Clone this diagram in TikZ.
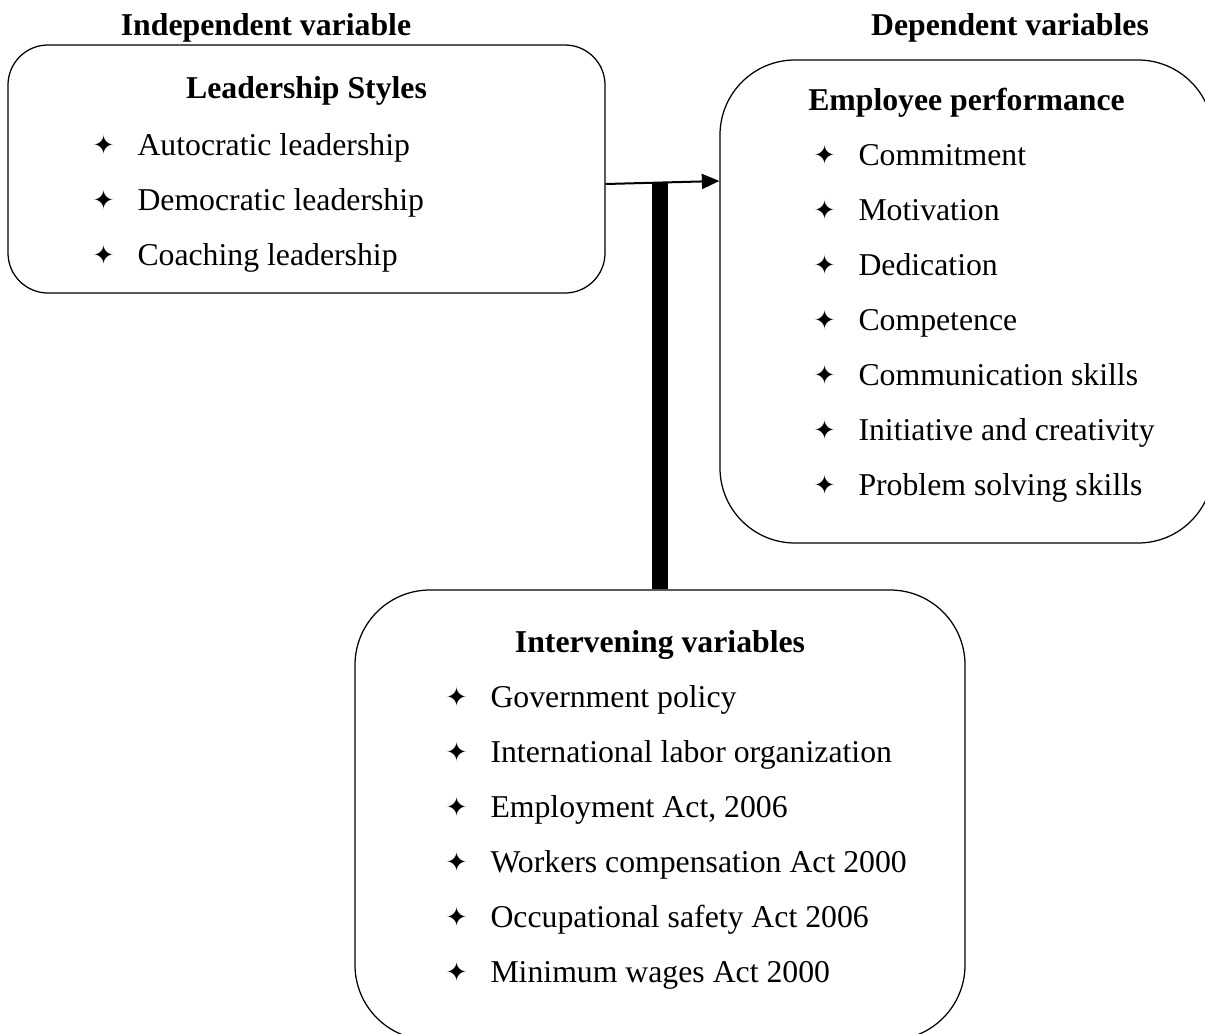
\documentclass[tikz,border=0pt]{standalone}
\usepackage{fontspec}
\setmainfont{Liberation Serif}
\newfontfamily\symfont{DejaVu Sans}
\usepackage{tikz}
\usetikzlibrary{arrows.meta,positioning}

\newcommand{\starbullet}{\makebox[27.2pt][c]{\raisebox{0.2pt}{\symfont\fontsize{10.5}{10}\selectfont ✦}}}

\begin{document}
\begin{tikzpicture}[
  x=0.4pt, y=-0.4pt,
  >=Triangle,
  every node/.style={font=\fontsize{12.7}{15}\selectfont},
  varbox/.style={
    draw, line width=0.5pt, rectangle
  },
  titletext/.style={
    anchor=base, inner sep=0pt, font=\fontsize{12.7}{15}\selectfont\bfseries
  },
  heading/.style={
    anchor=base, inner sep=0pt, font=\fontsize{12.7}{15}\selectfont\bfseries
  },
  item/.style={
    anchor=west, inner sep=0pt, text height=10pt, text depth=3.5pt
  },
  link/.style={->, line width=0.8pt, >={Triangle[length=7pt,width=6pt]}},
  bar/.style={line width=6.4pt}
]

\fill[white] (0,0) rectangle (1205,1033);
\useasboundingbox (0,0) rectangle (1205,1033);

% --- Column titles ---
\node[titletext] (indep) at (266,35) {Independent variable};
\node[titletext] (dep) at (1010,35) {Dependent variables};

% --- Boxes ---
\node[varbox, rounded corners=16pt, minimum width=238.8pt, minimum height=99.2pt] (lead) at (306.5,169) {};
\node[varbox, rounded corners=30pt, minimum width=197.2pt, minimum height=193.2pt] (perf) at (966.5,301.5) {};
\node[varbox, rounded corners=30pt, minimum width=244pt, minimum height=180pt] (inter) at (660,815) {};

% --- Leadership styles ---
\node[heading] (leadhead) at (306.5,98) {Leadership Styles};
\node[item, anchor=base west] (a1) at (69,155) {\starbullet Autocratic leadership};
\node[item, below=8.1pt of a1.south west, anchor=north west] (a2) {\starbullet Democratic leadership};
\node[item, below=8.1pt of a2.south west, anchor=north west] (a3) {\starbullet Coaching leadership};

% --- Employee performance ---
\node[heading] (perfhead) at (966.5,110) {Employee performance};
\node[item, anchor=base west] (b1) at (790,165) {\starbullet Commitment};
\node[item, below=8.1pt of b1.south west, anchor=north west] (b2) {\starbullet Motivation};
\node[item, below=8.1pt of b2.south west, anchor=north west] (b3) {\starbullet Dedication};
\node[item, below=8.1pt of b3.south west, anchor=north west] (b4) {\starbullet Competence};
\node[item, below=8.1pt of b4.south west, anchor=north west] (b5) {\starbullet Communication skills};
\node[item, below=8.1pt of b5.south west, anchor=north west] (b6) {\starbullet Initiative and creativity};
\node[item, below=8.1pt of b6.south west, anchor=north west] (b7) {\starbullet Problem solving skills};

% --- Intervening variables ---
\node[heading] (interhead) at (660,652) {Intervening variables};
\node[item, anchor=base west] (c1) at (422,707) {\starbullet Government policy};
\node[item, below=8.1pt of c1.south west, anchor=north west] (c2) {\starbullet International labor organization};
\node[item, below=8.1pt of c2.south west, anchor=north west] (c3) {\starbullet Employment Act, 2006};
\node[item, below=8.1pt of c3.south west, anchor=north west] (c4) {\starbullet Workers compensation Act 2000};
\node[item, below=8.1pt of c4.south west, anchor=north west] (c5) {\starbullet Occupational safety Act 2006};
\node[item, below=8.1pt of c5.south west, anchor=north west] (c6) {\starbullet Minimum wages Act 2000};

% --- Connectors ---
\draw[link] ([yshift=-6pt]lead.east) -- coordinate[pos=0.478] (meet) ([yshift=48.2pt]perf.west);
\draw[bar] (inter.north) -- (inter.north |- meet);

\end{tikzpicture}
\end{document}
